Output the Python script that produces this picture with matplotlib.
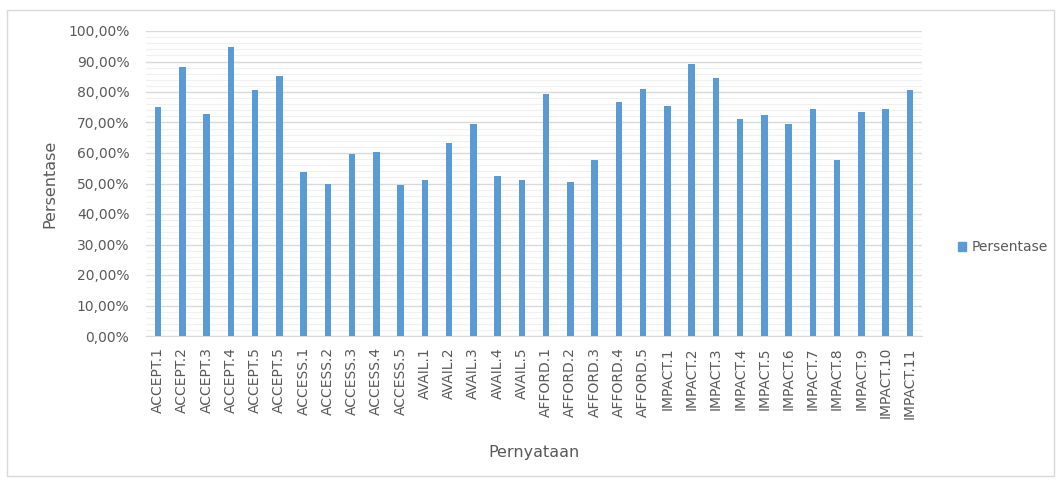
import matplotlib
matplotlib.use("Agg")
import matplotlib.pyplot as plt
from matplotlib.patches import Rectangle
from matplotlib.ticker import FuncFormatter, MultipleLocator

categories = [
    "ACCEPT.1", "ACCEPT.2", "ACCEPT.3", "ACCEPT.4", "ACCEPT.5", "ACCEPT.5",
    "ACCESS.1", "ACCESS.2", "ACCESS.3", "ACCESS.4", "ACCESS.5",
    "AVAIL.1", "AVAIL.2", "AVAIL.3", "AVAIL.4", "AVAIL.5",
    "AFFORD.1", "AFFORD.2", "AFFORD.3", "AFFORD.4", "AFFORD.5",
    "IMPACT.1", "IMPACT.2", "IMPACT.3", "IMPACT.4", "IMPACT.5", "IMPACT.6",
    "IMPACT.7", "IMPACT.8", "IMPACT.9", "IMPACT.10", "IMPACT.11",
]
persentase = [
    75.0, 88.3, 72.8, 94.7, 80.6, 85.2,
    53.9, 49.8, 59.6, 60.4, 49.4,
    51.3, 63.3, 69.6, 52.4, 51.3,
    79.2, 50.6, 57.8, 76.6, 81.1,
    75.5, 89.3, 84.7, 71.2, 72.4, 69.5,
    74.3, 57.8, 73.4, 74.4, 80.5,
]
y_ticks = [0, 10, 20, 30, 40, 50, 60, 70, 80, 90, 100]

bar_color = "#5B9BD5"
text_color = "#595959"
font = "DejaVu Sans"

W, H = 1061, 482
fig = plt.figure(figsize=(W / 100, H / 100), dpi=100)
ax_left, ax_right, ax_top, ax_bottom = 146, 922, 31, 336
ax = fig.add_axes([ax_left / W, 1 - ax_bottom / H, (ax_right - ax_left) / W, (ax_bottom - ax_top) / H])

x = list(range(len(categories)))
ax.bar(x, persentase, width=0.26, color=bar_color, zorder=3, label="Persentase")

ax.set_xlim(-0.5, len(categories) - 0.5)
ax.set_ylim(0, 100)
ax.set_yticks(y_ticks)
ax.yaxis.set_minor_locator(MultipleLocator(2))
ax.yaxis.set_major_formatter(FuncFormatter(lambda v, p: f"{v:.2f}".replace(".", ",") + "%"))
ax.grid(axis="y", which="major", color="#D9D9D9", linewidth=1.0, zorder=0)
ax.grid(axis="y", which="minor", color="#F0F0F0", linewidth=0.8, zorder=0)
ax.tick_params(axis="both", which="both", length=0, colors=text_color)
ax.tick_params(axis="y", pad=12, labelsize=10)
ax.tick_params(axis="x", pad=8, labelsize=10)

ax.set_xticks(x)
ax.set_xticklabels(categories, rotation=90, fontfamily=font)
for lab in ax.get_yticklabels():
    lab.set_fontfamily(font)

for side in ["top", "right", "left"]:
    ax.spines[side].set_visible(False)
ax.spines["bottom"].set_color("#D9D9D9")

ax.set_ylabel("Persentase", fontsize=11.5, color=text_color, fontfamily=font)
ax.set_xlabel("Pernyataan", fontsize=11.5, color=text_color, fontfamily=font)
ax.yaxis.set_label_coords((50 - ax_left) / (ax_right - ax_left), 0.5)
ax.xaxis.set_label_coords(0.5, (ax_bottom - 452) / (ax_bottom - ax_top))
ax.yaxis.label.set_va("center")
ax.xaxis.label.set_va("center")

leg = fig.legend(
    handles=[Rectangle((0, 0), 1, 1, color=bar_color)],
    labels=["Persentase"],
    loc="center left",
    bbox_to_anchor=(945 / W, 1 - 247 / H),
    frameon=False,
    handlelength=0.6,
    handleheight=0.6,
    handletextpad=0.4,
    prop={"family": font, "size": 10},
)
for t in leg.get_texts():
    t.set_color(text_color)

fig.patches.append(
    Rectangle((7 / W, 1 - 476 / H), (1054 - 7) / W, (476 - 10) / H,
              transform=fig.transFigure, fill=False, edgecolor="#D9D9D9", linewidth=1)
)

fig.savefig("out.png", dpi=100)
